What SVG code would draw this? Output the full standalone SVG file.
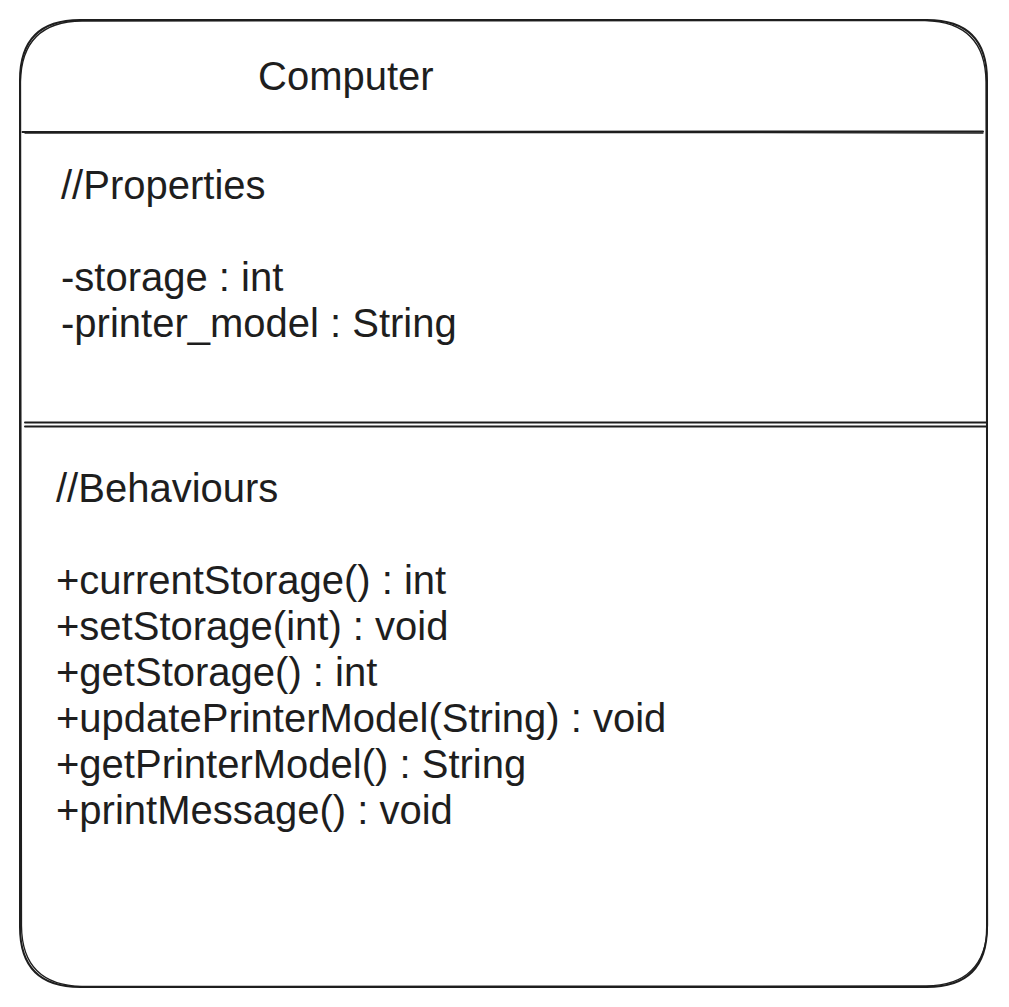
<svg xmlns="http://www.w3.org/2000/svg" width="1009" height="1007" viewBox="0 0 1009 1007">
  <style>
    .s { fill: none; stroke: #1e1e1e; stroke-width: 2; stroke-linecap: round; stroke-linejoin: round; }
    .s2 { fill: none; stroke: #1e1e1e; stroke-width: 1.3; stroke-linecap: round; }
    .t { font-family: "Liberation Sans", Arial, Helvetica, sans-serif; font-size: 40px; fill: #1e1e1e; }
  </style>
  <rect width="1009" height="1007" fill="#ffffff"/>
  <g id="class-computer">
    <path class="s" d="M80 20 L927 20 Q987 20 987 80 L987 927 Q987 987 927 987 L80 987 Q20 987 20 927 L20 80 Q20 20 80 20 Z"/>
    <path class="s2" d="M82 21 L925 20.5 Q985.5 22 986 82 L987.5 925 Q986 985.5 926 986 L82 986.5 Q22 985 21.5 926 L20.5 82 Q21.5 21.5 82 21"/>
    <path class="s" d="M22.5 132 L983 131.5"/>
    <path class="s2" d="M25 133 L700 132.5 L983 133"/>
    <path class="s" d="M25 422.5 L987 422.5"/>
    <path class="s" d="M25 426.5 L987 426.5"/>
    <text class="t" x="258" y="90">Computer</text>
    <text class="t" x="61" y="199">//Properties</text>
    <text class="t" x="61" y="291">-storage : int</text>
    <text class="t" x="61" y="337">-printer_model : String</text>
    <text class="t" x="56" y="502">//Behaviours</text>
    <text class="t" x="56" y="594">+currentStorage() : int</text>
    <text class="t" x="56" y="640">+setStorage(int) : void</text>
    <text class="t" x="56" y="686">+getStorage() : int</text>
    <text class="t" x="56" y="732">+updatePrinterModel(String) : void</text>
    <text class="t" x="56" y="778">+getPrinterModel() : String</text>
    <text class="t" x="56" y="824">+printMessage() : void</text>
  </g>
  <g id="connectors"></g>
</svg>
